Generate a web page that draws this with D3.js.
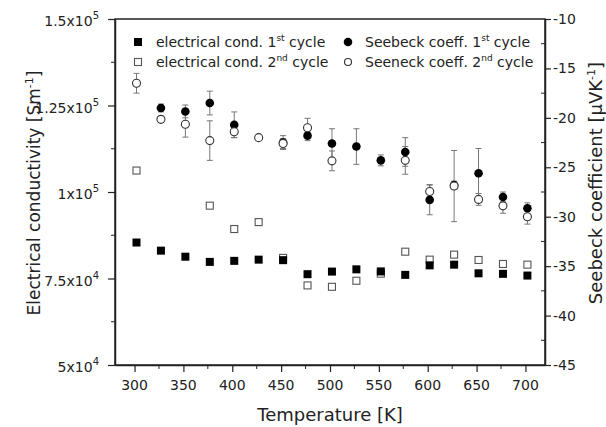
<!DOCTYPE html>
<html>
<head>
<meta charset="utf-8">
<script src="https://cdn.jsdelivr.net/npm/d3@7"></script>
<style>
  body { margin: 0; background: #fff; }
  svg text { font-family: "DejaVu Sans", sans-serif; fill: #222; }
</style>
</head>
<body>
<svg id="chart" width="606" height="427"></svg>
<script>
// temperatures of the measurements (K)
var temps = [302, 327, 352, 377, 402, 427, 452, 477, 502, 527, 552, 577, 602, 627, 652, 677, 702];

// electrical conductivity (S/m)
var cond1 = [85400, 83050, 81300, 79800, 80100, 80450, 80300, 76250, 77000, 77650, 77050, 76050, 78800, 79000, 76500, 76350, 75850];
var cond2 = [106200, null, null, 96050, 89300, 91300, 80950, 73000, 72600, 74350, 76400, 82750, 80450, 81900, 80350, 79200, 79000];

// Seebeck coefficient (uV/K) and error bars
var seebeck1 = [null, -19.0, -19.35, -18.5, -20.7, null, -22.5, -21.8, -22.6, -22.9, -24.3, -23.45, -28.3, -26.8, -25.6, -28.0, -29.15];
var seebeck1Err = [0, 0.4, 0.65, 1.2, 1.3, 0, 0.7, 0.5, 1.5, 1.8, 0.55, 1.45, 1.5, 0.4, 2.5, 0.5, 0.55];
var seebeck2 = [-16.5, -20.15, -20.65, -22.3, -21.4, -22.0, -22.6, -21.0, -24.35, null, null, -24.3, -27.45, -26.9, -28.25, -28.9, -30.0];
var seebeck2Err = [1.0, 0.3, 1.3, 2.0, 0.6, 0.3, 0.5, 0.95, 1.0, 0, 0, 1.4, 0.7, 3.6, 0.6, 0.75, 0.75];

// axis ticks
var xTicks = [300, 350, 400, 450, 500, 550, 600, 650, 700];
var xMinor = [325, 375, 425, 475, 525, 575, 625, 675];
var leftTicks = [50000, 75000, 100000, 125000, 150000];
var leftLabels = [["5x10", "4"], ["7.5x10", "4"], ["1x10", "5"], ["1.25x10", "5"], ["1.5x10", "5"]];
var leftMinor = [62500, 87500, 112500, 137500];
var rightTicks = [-45, -40, -35, -30, -25, -20, -15, -10];
var rightMinor = [-42.5, -37.5, -32.5, -27.5, -22.5, -17.5, -12.5];

var plotL = 115, plotR = 545, plotT = 19, plotB = 365;
var svg = d3.select("#chart");

var x = d3.scaleLinear().domain([280, 720]).range([plotL, plotR]);
var yL = d3.scaleLinear().domain([50000, 150000]).range([plotB, plotT]);
var yR = d3.scaleLinear().domain([-45, -10]).range([plotB, plotT]);

// frame
svg.append("rect")
	.attr("x", plotL).attr("y", plotT)
	.attr("width", plotR - plotL).attr("height", plotB - plotT)
	.attr("fill", "none").attr("stroke", "#222").attr("stroke-width", 1.5);

// bottom axis
var gx = svg.append("g").attr("transform", "translate(0," + plotB + ")");
gx.call(d3.axisBottom(x).tickValues(xTicks).tickSize(7).tickSizeOuter(0).tickFormat(""));
gx.append("g").selectAll("line").data(xMinor).enter().append("line")
	.attr("x1", function (d) { return x(d); }).attr("x2", function (d) { return x(d); })
	.attr("y1", 0).attr("y2", 4).attr("stroke", "#222");
gx.selectAll("text.lab").data(xTicks).enter().append("text")
	.attr("class", "lab")
	.attr("x", function (d) { return x(d); }).attr("y", 25)
	.attr("text-anchor", "middle").style("font-size", "14px")
	.text(function (d) { return d; });

// left axis
var gl = svg.append("g").attr("transform", "translate(" + plotL + ",0)");
gl.call(d3.axisLeft(yL).tickValues(leftTicks).tickSize(7).tickSizeOuter(0).tickFormat(""));
gl.append("g").selectAll("line").data(leftMinor).enter().append("line")
	.attr("y1", function (d) { return yL(d); }).attr("y2", function (d) { return yL(d); })
	.attr("x1", 0).attr("x2", -4).attr("stroke", "#222");
var ll = gl.selectAll("text.lab").data(leftTicks).enter().append("text")
	.attr("class", "lab")
	.attr("x", -16).attr("y", function (d) { return yL(d) + 7; })
	.attr("text-anchor", "end").style("font-size", "14px");
ll.append("tspan").text(function (d, i) { return leftLabels[i][0]; });
ll.append("tspan").attr("dy", -7).style("font-size", "10px").text(function (d, i) { return leftLabels[i][1]; });

// right axis
var gr = svg.append("g").attr("transform", "translate(" + plotR + ",0)");
gr.call(d3.axisRight(yR).tickValues(rightTicks).tickSize(6).tickSizeOuter(0).tickFormat(""));
gr.append("g").selectAll("line").data(rightMinor).enter().append("line")
	.attr("y1", function (d) { return yR(d); }).attr("y2", function (d) { return yR(d); })
	.attr("x1", 0).attr("x2", -4).attr("stroke", "#222");
gr.selectAll("text.lab").data(rightTicks).enter().append("text")
	.attr("class", "lab")
	.attr("x", 8).attr("y", function (d) { return yR(d) + 5; })
	.style("font-size", "14px")
	.text(function (d) { return d; });
svg.selectAll(".domain").attr("stroke", "#222").attr("stroke-width", 1.5);
svg.selectAll(".tick line").attr("stroke", "#222").attr("stroke-width", 1.2);

// axis titles
svg.append("text").attr("x", 330).attr("y", 421).attr("text-anchor", "middle")
	.style("font-size", "18px").text("Temperature [K]");

var tl = svg.append("text").attr("transform", "translate(40,193) rotate(-90)")
	.attr("text-anchor", "middle").style("font-size", "17px");
tl.append("tspan").text("Electrical conductivity [Sm");
tl.append("tspan").attr("dy", -7).style("font-size", "11px").text("-1");
tl.append("tspan").attr("dy", 7).text("]");

var tr = svg.append("text").attr("transform", "translate(602,183) rotate(-90)")
	.attr("text-anchor", "middle").style("font-size", "18px");
tr.append("tspan").text("Seebeck coefficient [\u03BCVK");
tr.append("tspan").attr("dy", -7).style("font-size", "11px").text("-1");
tr.append("tspan").attr("dy", 7).text("]");

// error bars
function errorBars(vals, errs) {
	var pts = temps.map(function (t, i) { return { t: t, v: vals[i], e: errs[i] }; })
		.filter(function (d) { return d.v !== null && d.e > 0; });
	var g = svg.append("g").attr("stroke", "#777").attr("stroke-width", 1);
	var eb = g.selectAll("g").data(pts).enter().append("g");
	eb.append("line")
		.attr("x1", function (d) { return x(d.t); }).attr("x2", function (d) { return x(d.t); })
		.attr("y1", function (d) { return yR(d.v + d.e); }).attr("y2", function (d) { return yR(d.v - d.e); });
	[1, -1].forEach(function (s) {
		eb.append("line")
			.attr("x1", function (d) { return x(d.t) - 3; }).attr("x2", function (d) { return x(d.t) + 3; })
			.attr("y1", function (d) { return yR(d.v + s * d.e); }).attr("y2", function (d) { return yR(d.v + s * d.e); });
	});
}
errorBars(seebeck2, seebeck2Err);
errorBars(seebeck1, seebeck1Err);

function pairs(vals) {
	return temps.map(function (t, i) { return [t, vals[i]]; })
		.filter(function (d) { return d[1] !== null; });
}

// conductivity squares
svg.append("g").selectAll("rect").data(pairs(cond2)).enter().append("rect")
	.attr("x", function (d) { return x(d[0]) - 3.5; }).attr("y", function (d) { return yL(d[1]) - 3.5; })
	.attr("width", 7).attr("height", 7)
	.attr("fill", "#fff").attr("stroke", "#555").attr("stroke-width", 1.1);
svg.append("g").selectAll("rect").data(pairs(cond1)).enter().append("rect")
	.attr("x", function (d) { return x(d[0]) - 4; }).attr("y", function (d) { return yL(d[1]) - 4; })
	.attr("width", 8).attr("height", 8)
	.attr("fill", "#000");

// seebeck circles
svg.append("g").selectAll("circle").data(pairs(seebeck1)).enter().append("circle")
	.attr("cx", function (d) { return x(d[0]); }).attr("cy", function (d) { return yR(d[1]); })
	.attr("r", 4.3).attr("fill", "#000");
svg.append("g").selectAll("circle").data(pairs(seebeck2)).enter().append("circle")
	.attr("cx", function (d) { return x(d[0]); }).attr("cy", function (d) { return yR(d[1]); })
	.attr("r", 4).attr("fill", "#fff").attr("stroke", "#333").attr("stroke-width", 1.1);

// legend
var legend = svg.append("g");
legend.append("rect").attr("x", 134).attr("y", 38).attr("width", 8).attr("height", 8).attr("fill", "#000");
legend.append("rect").attr("x", 134.5).attr("y", 58.5).attr("width", 7).attr("height", 7)
	.attr("fill", "#fff").attr("stroke", "#555").attr("stroke-width", 1.1);
legend.append("circle").attr("cx", 348).attr("cy", 42).attr("r", 4.3).attr("fill", "#000");
legend.append("circle").attr("cx", 348).attr("cy", 62).attr("r", 3.5)
	.attr("fill", "#fff").attr("stroke", "#333").attr("stroke-width", 1.1);

var legendRows = [
	[156, 47, "electrical cond. 1", "st", " cycle"],
	[156, 67, "electrical cond. 2", "nd", " cycle"],
	[365, 47, "Seebeck coeff. 1", "st", " cycle"],
	[365, 67, "Seeneck coeff. 2", "nd", " cycle"]
];
legendRows.forEach(function (r) {
	var t = legend.append("text").attr("x", r[0]).attr("y", r[1]).style("font-size", "14px");
	t.append("tspan").text(r[2]);
	t.append("tspan").attr("dy", -6).style("font-size", "9px").text(r[3]);
	t.append("tspan").attr("dy", 6).text(r[4]);
});
</script>
</body>
</html>
